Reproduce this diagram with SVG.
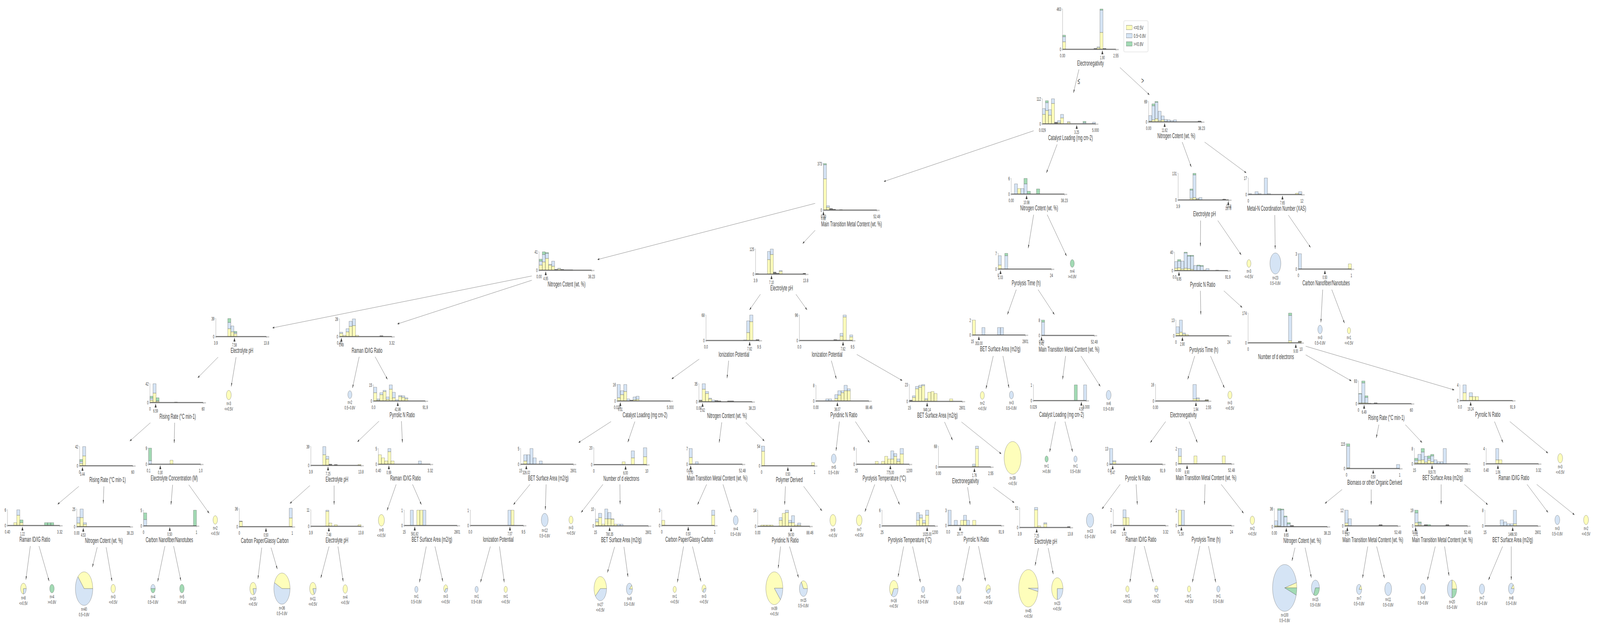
<svg xmlns="http://www.w3.org/2000/svg" width="7916" height="1614" viewBox="0 0 7916 1614" preserveAspectRatio="none">
<defs>
<marker id="ah" viewBox="0 0 10 6" refX="10" refY="3" markerWidth="9" markerHeight="5.4" markerUnits="userSpaceOnUse" orient="auto"><path d="M0,0L10,3L0,6z" fill="#444443"/></marker>
<style>
svg{width:100vw;height:100vh}
text{font-family:"Liberation Sans",Arial,sans-serif;fill:#444443}
.t{font-size:13.5px;text-anchor:middle}
.t.e{text-anchor:end}
.s{font-size:12px;text-anchor:middle}
.f{font-size:18px;text-anchor:middle}
.l{font-size:13px;text-anchor:middle}
.el{font-size:22px;text-anchor:middle}
.lg{font-size:15px}
.xg{stroke:#c8c8c8;stroke-width:3;fill:none}
.xl{stroke:#444443;stroke-width:1.4;fill:none}
.ya{stroke:#a0a0a0;stroke-width:1;fill:none}
.tr{fill:#444443}
.Y{fill:#fefebb;stroke:#444443;stroke-width:.6}
.B{fill:#d5e4f5;stroke:#444443;stroke-width:.6}
.G{fill:#a2dab4;stroke:#444443;stroke-width:.6}
.K{fill:#777;stroke:#444443;stroke-width:.6}
#edges line{stroke:#666;stroke-width:1;fill:none;marker-end:url(#ah)}
</style>
</defs>
<rect width="7916" height="1614" fill="#fff"/>
<g id="edges">
<line x1="5338" y1="178" x2="5311" y2="238"/>
<line x1="5541" y1="173" x2="5687" y2="243"/>
<line x1="5114" y1="335" x2="4373" y2="465"/>
<line x1="5230" y1="370" x2="5177" y2="443"/>
<line x1="5849" y1="364" x2="5894" y2="428"/>
<line x1="5960" y1="364" x2="6166" y2="443"/>
<line x1="4033" y1="521" x2="2956" y2="665"/>
<line x1="4033" y1="590" x2="3971" y2="624"/>
<line x1="5114" y1="550" x2="5087" y2="636"/>
<line x1="5181" y1="550" x2="5277" y2="656"/>
<line x1="5940" y1="565" x2="5939" y2="631"/>
<line x1="6025" y1="565" x2="6141" y2="653"/>
<line x1="6307" y1="551" x2="6309" y2="638"/>
<line x1="6374" y1="551" x2="6484" y2="634"/>
<line x1="2631" y1="707" x2="1348" y2="840"/>
<line x1="2631" y1="718" x2="1966" y2="830"/>
<line x1="3762" y1="754" x2="3708" y2="794"/>
<line x1="3938" y1="754" x2="3993" y2="794"/>
<line x1="5028" y1="742" x2="4984" y2="806"/>
<line x1="5136" y1="742" x2="5217" y2="806"/>
<line x1="5939" y1="745" x2="5941" y2="806"/>
<line x1="6055" y1="745" x2="6146" y2="788"/>
<line x1="6544" y1="742" x2="6535" y2="826"/>
<line x1="6589" y1="742" x2="6652" y2="828"/>
<line x1="1079" y1="915" x2="978" y2="968"/>
<line x1="1168" y1="915" x2="1144" y2="990"/>
<line x1="1777" y1="914" x2="1744" y2="994"/>
<line x1="1856" y1="914" x2="1917" y2="972"/>
<line x1="3459" y1="920" x2="3323" y2="971"/>
<line x1="3605" y1="924" x2="3597" y2="969"/>
<line x1="4113" y1="924" x2="4138" y2="971"/>
<line x1="4239" y1="908" x2="4464" y2="975"/>
<line x1="4914" y1="912" x2="4878" y2="996"/>
<line x1="4962" y1="912" x2="4992" y2="994"/>
<line x1="5272" y1="912" x2="5257" y2="972"/>
<line x1="5348" y1="912" x2="5444" y2="990"/>
<line x1="5911" y1="912" x2="5876" y2="972"/>
<line x1="5989" y1="912" x2="6058" y2="994"/>
<line x1="6460" y1="909" x2="6686" y2="976"/>
<line x1="6460" y1="887" x2="7195" y2="999"/>
<line x1="744" y1="1083" x2="642" y2="1130"/>
<line x1="864" y1="1083" x2="862" y2="1135"/>
<line x1="1875" y1="1079" x2="1768" y2="1132"/>
<line x1="1986" y1="1079" x2="1991" y2="1134"/>
<line x1="3023" y1="1080" x2="2862" y2="1134"/>
<line x1="3141" y1="1080" x2="3106" y2="1133"/>
<line x1="3571" y1="1082" x2="3558" y2="1134"/>
<line x1="3690" y1="1082" x2="3782" y2="1130"/>
<line x1="4153" y1="1080" x2="4136" y2="1155"/>
<line x1="4232" y1="1080" x2="4302" y2="1134"/>
<line x1="4673" y1="1081" x2="4713" y2="1128"/>
<line x1="4757" y1="1081" x2="4954" y2="1163"/>
<line x1="5222" y1="1080" x2="5193" y2="1158"/>
<line x1="5269" y1="1080" x2="5307" y2="1158"/>
<line x1="5767" y1="1080" x2="5691" y2="1134"/>
<line x1="5883" y1="1080" x2="5924" y2="1134"/>
<line x1="6822" y1="1088" x2="6809" y2="1122"/>
<line x1="6953" y1="1088" x2="7036" y2="1134"/>
<line x1="7394" y1="1080" x2="7436" y2="1134"/>
<line x1="7470" y1="1080" x2="7659" y2="1161"/>
<line x1="390" y1="1246" x2="285" y2="1292"/>
<line x1="514" y1="1246" x2="511" y2="1290"/>
<line x1="854" y1="1242" x2="846" y2="1293"/>
<line x1="934" y1="1242" x2="1035" y2="1315"/>
<line x1="1533" y1="1244" x2="1434" y2="1290"/>
<line x1="1653" y1="1244" x2="1653" y2="1293"/>
<line x1="1960" y1="1241" x2="1915" y2="1308"/>
<line x1="2041" y1="1241" x2="2085" y2="1293"/>
<line x1="2622" y1="1241" x2="2540" y2="1293"/>
<line x1="2702" y1="1241" x2="2698" y2="1306"/>
<line x1="2983" y1="1241" x2="2875" y2="1313"/>
<line x1="3067" y1="1241" x2="3068" y2="1292"/>
<line x1="3496" y1="1241" x2="3451" y2="1293"/>
<line x1="3577" y1="1241" x2="3620" y2="1313"/>
<line x1="3886" y1="1246" x2="3882" y2="1293"/>
<line x1="3976" y1="1246" x2="4067" y2="1309"/>
<line x1="4328" y1="1241" x2="4279" y2="1311"/>
<line x1="4408" y1="1241" x2="4451" y2="1293"/>
<line x1="4787" y1="1248" x2="4800" y2="1293"/>
<line x1="4914" y1="1248" x2="5018" y2="1288"/>
<line x1="5542" y1="1241" x2="5452" y2="1304"/>
<line x1="5621" y1="1241" x2="5627" y2="1293"/>
<line x1="5962" y1="1241" x2="5959" y2="1293"/>
<line x1="6042" y1="1241" x2="6153" y2="1315"/>
<line x1="6640" y1="1254" x2="6555" y2="1290"/>
<line x1="6784" y1="1254" x2="6784" y2="1293"/>
<line x1="7130" y1="1241" x2="7130" y2="1292"/>
<line x1="7245" y1="1241" x2="7361" y2="1293"/>
<line x1="7555" y1="1241" x2="7659" y2="1313"/>
<line x1="7603" y1="1241" x2="7790" y2="1319"/>
<line x1="150" y1="1399" x2="128" y2="1485"/>
<line x1="193" y1="1399" x2="243" y2="1489"/>
<line x1="481" y1="1402" x2="457" y2="1453"/>
<line x1="525" y1="1402" x2="554" y2="1489"/>
<line x1="816" y1="1399" x2="780" y2="1490"/>
<line x1="859" y1="1399" x2="895" y2="1488"/>
<line x1="1295" y1="1403" x2="1276" y2="1483"/>
<line x1="1341" y1="1403" x2="1372" y2="1458"/>
<line x1="1628" y1="1400" x2="1587" y2="1481"/>
<line x1="1672" y1="1400" x2="1698" y2="1490"/>
<line x1="2109" y1="1400" x2="2075" y2="1492"/>
<line x1="2152" y1="1400" x2="2191" y2="1490"/>
<line x1="2426" y1="1400" x2="2377" y2="1492"/>
<line x1="2471" y1="1400" x2="2495" y2="1492"/>
<line x1="3041" y1="1401" x2="3005" y2="1467"/>
<line x1="3087" y1="1401" x2="3107" y2="1478"/>
<line x1="3382" y1="1400" x2="3351" y2="1492"/>
<line x1="3426" y1="1400" x2="3468" y2="1490"/>
<line x1="3862" y1="1400" x2="3850" y2="1456"/>
<line x1="3906" y1="1400" x2="3951" y2="1480"/>
<line x1="4471" y1="1400" x2="4443" y2="1478"/>
<line x1="4515" y1="1400" x2="4554" y2="1492"/>
<line x1="4797" y1="1399" x2="4762" y2="1490"/>
<line x1="4841" y1="1399" x2="4876" y2="1489"/>
<line x1="5138" y1="1404" x2="5121" y2="1449"/>
<line x1="5186" y1="1404" x2="5211" y2="1471"/>
<line x1="5617" y1="1399" x2="5590" y2="1492"/>
<line x1="5661" y1="1399" x2="5706" y2="1492"/>
<line x1="5936" y1="1399" x2="5899" y2="1492"/>
<line x1="5979" y1="1399" x2="6015" y2="1492"/>
<line x1="6407" y1="1403" x2="6392" y2="1437"/>
<line x1="6457" y1="1403" x2="6488" y2="1480"/>
<line x1="6767" y1="1400" x2="6741" y2="1481"/>
<line x1="6811" y1="1400" x2="6850" y2="1481"/>
<line x1="7101" y1="1400" x2="7062" y2="1486"/>
<line x1="7147" y1="1400" x2="7169" y2="1475"/>
<line x1="7434" y1="1400" x2="7364" y2="1486"/>
<line x1="7477" y1="1400" x2="7477" y2="1486"/>
<text class="el" x="5337" y="215">≤</text>
<text class="el" x="5653" y="214">&gt;</text>
</g>
<g id="legend">
<rect x="5560" y="53" width="120" height="80" rx="4" fill="#fff" stroke="#c8c8c8"/>
<rect class="Y" x="5572" y="65" width="30" height="11"/><text class="lg" x="5609" y="76">&lt;=0.5V</text>
<rect class="B" x="5572" y="86" width="30" height="11"/><text class="lg" x="5609" y="97">0.5~0.8V</text>
<rect class="G" x="5572" y="107" width="30" height="11"/><text class="lg" x="5609" y="118">&gt;=0.8V</text>
</g>
<g id="n1" transform="translate(5257,126)"><path class="xg" d="M-2,1H278"/><path class="Y" d="M0,0v-19h15v19zM170,0v-4h15v4zM185,0v-43h15v43z"/><path class="B" d="M0,-19v-13h15v13zM170,-4v-2h15v2zM185,-43v-57h15v57z"/><path class="G" d="M0,-32v-4h15v4zM185,-100v-3h15v3z"/><path class="K" d="M155,0v-2h15v2zM200,0v-2h15v2z"/><path class="xl" d="M0,0H264"/><path class="ya" d="M0,4V-103M-4,0H0M-4,-103H0M264,0v4"/><text class="t e" x="-7" y="5">0</text><text class="t e" x="-7" y="-98">463</text><text class="t" x="0" y="21">0.00</text><text class="t" x="264" y="21">2.55</text><path class="tr" d="M197,3l5,10h-10z"/><text class="s" x="197" y="26">1.90</text><text class="f" x="138" y="42">Electronegativity</text></g>
<g id="n2" transform="translate(5157,317)"><path class="xg" d="M-2,1H277"/><path class="Y" d="M0,0v-24h15v24zM15,0v-34h15v34zM30,0v-22h15v22zM45,0v-52h15v52zM75,0v-3h15v3zM90,0v-15h15v15zM123,0v-4h15v4z"/><path class="B" d="M0,-24v-15h15v15zM15,-34v-20h15v20zM30,-22v-14h15v14zM45,-52v-12h15v12zM75,-3v-5h15v5zM90,-15v-9h15v9zM123,-4v-1h15v1zM201,0v-3h15v3zM248,0v-4h15v4z"/><path class="G" d="M15,-54v-5h15v5zM201,-3v-3h15v3z"/><path class="K" d="M60,0v-4h15v4z"/><path class="xl" d="M0,0H263"/><path class="ya" d="M0,4V-64M-4,0H0M-4,-64H0M263,0v4"/><text class="t e" x="-7" y="5">0</text><text class="t e" x="-7" y="-59">112</text><text class="t" x="0" y="21">0.029</text><text class="t" x="263" y="21">5.000</text><path class="tr" d="M170,3l5,10h-10z"/><text class="s" x="170" y="26">3.25</text><text class="f" x="139" y="42">Catalyst Loading (mg cm-2)</text></g>
<g id="n3" transform="translate(5683,312)"><path class="xg" d="M-2,1H276"/><path class="Y" d="M0,0v-2h15v2zM16,0v-5h15v5zM31,0v-8h15v8zM47,0v-3h15v3zM62,0v-5h15v5zM77,0v-1h15v1z"/><path class="B" d="M0,-2v-14h15v14zM16,-5v-36h15v36zM31,-8v-42h15v42zM47,-3v-24h15v24zM62,-5v-10h15v10zM77,-1v-5h15v5zM92,0v-5h15v5zM107,0v-3h15v3zM123,0v-5h15v5z"/><path class="G" d="M16,-41v-5h15v5zM31,-50v-2h15v2z"/><path class="K" d="M244,0v-2h15v2z"/><path class="xl" d="M0,0H262"/><path class="ya" d="M0,4V-52M-4,0H0M-4,-52H0M262,0v4"/><text class="t e" x="-7" y="5">0</text><text class="t e" x="-7" y="-47">69</text><text class="t" x="0" y="21">0.00</text><text class="t" x="262" y="21">38.23</text><path class="tr" d="M79,3l5,10h-10z"/><text class="s" x="79" y="26">11.62</text><text class="f" x="137" y="42">Nitrogen Cotent (wt. %)</text></g>
<g id="n4" transform="translate(4074,538)"><path class="xg" d="M-2,1H278"/><path class="Y" d="M0,0v-80h15v80zM15,0v-7h15v7z"/><path class="B" d="M0,-80v-36h15v36zM15,-7v-4h15v4z"/><path class="G" d="M0,-116v-3h15v3z"/><path class="K" d="M30,0v-4h15v4zM45,0v-2h15v2zM79,0v-1h15v1z"/><path class="xl" d="M0,0H264"/><path class="ya" d="M0,4V-119M-4,0H0M-4,-119H0M264,0v4"/><text class="t e" x="-7" y="5">0</text><text class="t e" x="-7" y="-114">373</text><text class="t" x="0" y="21">0.00</text><text class="t" x="264" y="21">52.48</text><path class="tr" d="M0,3l5,10h-10z"/><text class="s" x="0" y="26">0.88</text><text class="f" x="139" y="42">Main Transition Metal Content (wt. %)</text></g>
<g id="n5" transform="translate(5003,497)"><path class="xg" d="M-2,1H277"/><path class="Y" d="M31,0v-14h16v14z"/><path class="B" d="M16,0v-26h15v26zM47,0v-14h16v14zM63,0v-26h16v26z"/><path class="G" d="M63,-26v-14h16v14zM79,0v-7h16v7zM125,0v-13h16v13z"/><path class="xl" d="M0,0H263"/><path class="ya" d="M0,4V-40M-4,0H0M-4,-40H0M263,0v4"/><text class="t e" x="-7" y="5">0</text><text class="t e" x="-7" y="-35">6</text><text class="t" x="0" y="21">0.00</text><text class="t" x="263" y="21">38.23</text><path class="tr" d="M76,3l5,10h-10z"/><text class="s" x="76" y="26">10.98</text><text class="f" x="138" y="42">Nitrogen Cotent (wt. %)</text></g>
<g id="n6" transform="translate(5829,512)"><path class="xg" d="M-2,1H264"/><path class="Y" d="M58,0v-4h15v4zM73,0v-6h15v6zM88,0v-2h15v2z"/><path class="B" d="M58,-4v-21h15v21zM73,-6v-58h15v58zM88,-2v-2h15v2zM103,0v-6h15v6z"/><path class="G" d="M58,-25v-3h15v3zM73,-64v-4h15v4z"/><path class="K" d="M220,0v-2h15v2z"/><path class="xl" d="M0,0H250"/><path class="ya" d="M0,4V-68M-4,0H0M-4,-68H0M250,0v4"/><text class="t e" x="-7" y="5">0</text><text class="t e" x="-7" y="-63">131</text><text class="t" x="0" y="21">3.9</text><text class="t" x="250" y="21">13.8</text><path class="tr" d="M248,3l5,10h-10z"/><text class="s" x="248" y="26">13.78</text><text class="f" x="130" y="42">Electrolyte pH</text></g>
<g id="n7" transform="translate(6176,498)"><path class="xg" d="M-2,1H279"/><path class="Y" d="M233,0v-3h15v3z"/><path class="B" d="M0,0v-2h16v2zM33,0v-7h16v7zM49,0v-2h15v2zM79,0v-42h16v42zM95,0v-2h15v2zM249,0v-7h16v7z"/><path class="xl" d="M0,0H265"/><path class="ya" d="M0,4V-42M-4,0H0M-4,-42H0M265,0v4"/><text class="t e" x="-7" y="5">0</text><text class="t e" x="-7" y="-37">17</text><text class="t" x="0" y="21">0</text><text class="t" x="265" y="21">12</text><path class="tr" d="M169,3l5,10h-10z"/><text class="s" x="169" y="26">7.65</text><text class="f" x="140" y="42">Metal-N Coordination Number (XAS)</text></g>
<g id="n8" transform="translate(2667,692)"><path class="xg" d="M-2,1H274"/><path class="Y" d="M0,0v-13h16v13zM16,0v-21h15v21zM31,0v-30h16v30zM47,0v-13h15v13zM62,0v-10h15v10zM92,0v-3h15v3z"/><path class="B" d="M0,-13v-10h16v10zM16,-21v-19h15v19zM31,-30v-13h16v13zM47,-13v-2h15v2zM62,-10v-13h15v13zM92,-3v-2h15v2z"/><path class="G" d="M0,-23v-5h16v5zM16,-40v-7h15v7zM31,-43v-2h16v2z"/><path class="K" d="M77,0v-2h15v2zM107,0v-2h15v2zM122,0v-1h45v1z"/><path class="xl" d="M0,0H260"/><path class="ya" d="M0,4V-47M-4,0H0M-4,-47H0M260,0v4"/><text class="t e" x="-7" y="5">0</text><text class="t e" x="-7" y="-42">41</text><text class="t" x="0" y="21">0.00</text><text class="t" x="260" y="21">38.23</text><path class="tr" d="M33,3l5,10h-10z"/><text class="s" x="33" y="26">4.95</text><text class="f" x="136" y="42">Nitrogen Cotent (wt. %)</text></g>
<g id="n9" transform="translate(3738,702)"><path class="xg" d="M-2,1H262"/><path class="Y" d="M59,0v-37h14v37zM73,0v-50h15v50zM117,0v-7h15v7z"/><path class="B" d="M59,-37v-21h14v21zM73,-50v-14h15v14zM117,-7v-2h15v2z"/><path class="K" d="M0,0v-1h15v1zM88,0v-5h14v5zM102,0v-2h15v2zM235,0v-2h13v2z"/><path class="xl" d="M0,0H248"/><path class="ya" d="M0,4V-64M-4,0H0M-4,-64H0M248,0v4"/><text class="t e" x="-7" y="5">0</text><text class="t e" x="-7" y="-59">125</text><text class="t" x="0" y="21">3.9</text><text class="t" x="248" y="21">13.8</text><path class="tr" d="M79,3l5,10h-10z"/><text class="s" x="79" y="26">7.10</text><text class="f" x="129" y="42">Electrolyte pH</text></g>
<g id="n10" transform="translate(4939,689)"><path class="xg" d="M-2,1H277"/><path class="Y" d="M0,0v-10h15v10z"/><path class="B" d="M0,-10v-24h15v24zM32,0v-34h15v34z"/><path class="G" d="M32,-34v-6h15v6z"/><path class="xl" d="M0,0H263"/><path class="ya" d="M0,4V-40M-4,0H0M-4,-40H0M263,0v4"/><text class="t e" x="-7" y="5">0</text><text class="t e" x="-7" y="-35">7</text><text class="t" x="0" y="21">0</text><text class="t" x="263" y="21">24</text><path class="tr" d="M11,3l5,10h-10z"/><text class="s" x="11" y="26">1.03</text><text class="f" x="138" y="42">Pyrolysis Time (h)</text></g>
<g id="n11" transform="translate(5811,693)"><path class="xg" d="M-2,1H278"/><path class="Y" d="M0,0v-6h15v6zM15,0v-7h16v7zM31,0v-4h16v4zM47,0v-6h16v6zM63,0v-5h16v5zM79,0v-3h16v3z"/><path class="B" d="M0,-6v-17h15v17zM15,-7v-17h16v17zM31,-4v-20h16v20zM47,-6v-39h16v39zM63,-5v-32h16v32zM79,-3v-34h16v34zM95,0v-13h16v13zM111,0v-12h16v12zM127,0v-11h16v11zM155,0v-5h16v5z"/><path class="G" d="M15,-24v-4h16v4zM47,-45v-2h16v2zM63,-37v-2h16v2zM79,-37v-2h16v2zM111,-12v-2h16v2zM127,-11v-2h16v2z"/><path class="K" d="M143,0v-1h12v1zM203,0v-1h15v1z"/><path class="xl" d="M0,0H264"/><path class="ya" d="M0,4V-47M-4,0H0M-4,-47H0M264,0v4"/><text class="t e" x="-7" y="5">0</text><text class="t e" x="-7" y="-42">40</text><text class="t" x="0" y="21">0.0</text><text class="t" x="264" y="21">91.9</text><path class="tr" d="M22,3l5,10h-10z"/><text class="s" x="22" y="26">6.95</text><text class="f" x="139" y="42">Pyrrolic N Ratio</text></g>
<g id="n12" transform="translate(6424,689)"><path class="xg" d="M-2,1H276"/><path class="Y" d="M247,0v-13h15v13z"/><path class="B" d="M0,0v-39h15v39z"/><path class="xl" d="M0,0H262"/><path class="ya" d="M0,4V-39M-4,0H0M-4,-39H0M262,0v4"/><text class="t e" x="-7" y="5">0</text><text class="t e" x="-7" y="-34">3</text><text class="t" x="0" y="21">0</text><text class="t" x="262" y="21">1</text><path class="tr" d="M131,3l5,10h-10z"/><text class="s" x="131" y="26">0.50</text><text class="f" x="137" y="42">Carbon Nanofiber/Nanotubes</text></g>
<g id="n13" transform="translate(1068,862)"><path class="xg" d="M-2,1H264"/><path class="Y" d="M59,0v-20h15v20zM74,0v-12h15v12zM89,0v-7h15v7z"/><path class="B" d="M59,-20v-16h15v16zM74,-12v-15h15v15zM89,-7v-3h15v3z"/><path class="G" d="M59,-36v-10h15v10zM89,-10v-3h15v3z"/><path class="xl" d="M0,0H250"/><path class="ya" d="M0,4V-46M-4,0H0M-4,-46H0M250,0v4"/><text class="t e" x="-7" y="5">0</text><text class="t e" x="-7" y="-41">39</text><text class="t" x="0" y="21">3.9</text><text class="t" x="250" y="21">13.8</text><path class="tr" d="M92,3l5,10h-10z"/><text class="s" x="92" y="26">7.58</text><text class="f" x="129" y="42">Electrolyte pH</text></g>
<g id="n14" transform="translate(1680,862)"><path class="xg" d="M-2,1H273"/><path class="Y" d="M0,0v-8h16v8zM16,0v-3h16v3zM32,0v-12h15v12zM47,0v-26h16v26zM63,0v-28h16v28zM79,0v-3h16v3z"/><path class="B" d="M0,-8v-3h16v3zM32,-12v-8h15v8zM47,-26v-13h16v13zM63,-28v-17h16v17z"/><path class="K" d="M199,0v-2h16v2z"/><path class="xl" d="M0,0H259"/><path class="ya" d="M0,4V-45M-4,0H0M-4,-45H0M259,0v4"/><text class="t e" x="-7" y="5">0</text><text class="t e" x="-7" y="-40">28</text><text class="t" x="0" y="21">0.40</text><text class="t" x="259" y="21">3.32</text><path class="tr" d="M9,3l5,10h-10z"/><text class="s" x="9" y="26">0.49</text><text class="f" x="136" y="42">Raman ID/IG Ratio</text></g>
<g id="n15" transform="translate(3493,872)"><path class="xg" d="M-2,1H277"/><path class="Y" d="M201,0v-20h15v20zM216,0v-48h16v48z"/><path class="B" d="M201,-20v-30h15v30zM216,-48v-17h16v17z"/><path class="K" d="M185,0v-1h16v1zM247,0v-2h16v2z"/><path class="xl" d="M0,0H263"/><path class="ya" d="M0,4V-65M-4,0H0M-4,-65H0M263,0v4"/><text class="t e" x="-7" y="5">0</text><text class="t e" x="-7" y="-60">68</text><text class="t" x="0" y="21">0.0</text><text class="t" x="263" y="21">9.5</text><path class="tr" d="M216,3l5,10h-10z"/><text class="s" x="216" y="26">7.82</text><text class="f" x="138" y="42">Ionization Potential</text></g>
<g id="n16" transform="translate(3955,872)"><path class="xg" d="M-2,1H277"/><path class="Y" d="M201,0v-11h15v11zM216,0v-60h16v60zM249,0v-9h15v9z"/><path class="B" d="M201,-11v-7h15v7zM216,-60v-5h16v5zM249,-9v-5h15v5z"/><path class="K" d="M170,0v-2h15v2zM185,0v-1h16v1z"/><path class="xl" d="M0,0H263"/><path class="ya" d="M0,4V-65M-4,0H0M-4,-65H0M263,0v4"/><text class="t e" x="-7" y="5">0</text><text class="t e" x="-7" y="-60">96</text><text class="t" x="0" y="21">0.0</text><text class="t" x="263" y="21">9.5</text><path class="tr" d="M216,3l5,10h-10z"/><text class="s" x="216" y="26">7.82</text><text class="f" x="137" y="42">Ionization Potential</text></g>
<g id="n17" transform="translate(4811,858)"><path class="xg" d="M-2,1H276"/><path class="Y" d="M0,0v-38h15v38z"/><path class="B" d="M47,0v-19h15v19zM124,0v-19h15v19zM139,0v-19h15v19z"/><path class="xl" d="M0,0H262"/><path class="ya" d="M0,4V-38M-4,0H0M-4,-38H0M262,0v4"/><text class="t e" x="-7" y="5">0</text><text class="t e" x="-7" y="-33">2</text><text class="t" x="0" y="21">15</text><text class="t" x="262" y="21">2801</text><path class="tr" d="M32,3l5,10h-10z"/><text class="s" x="32" y="26">353.00</text><text class="f" x="138" y="42">BET Surface Area (m2/g)</text></g>
<g id="n18" transform="translate(5153,859)"><path class="xg" d="M-2,1H275"/><path class="B" d="M0,0v-34h15v34z"/><path class="G" d="M0,-34v-5h15v5z"/><path class="xl" d="M0,0H261"/><path class="ya" d="M0,4V-39M-4,0H0M-4,-39H0M261,0v4"/><text class="t e" x="-7" y="5">0</text><text class="t e" x="-7" y="-34">8</text><text class="t" x="0" y="21">0.00</text><text class="t" x="261" y="21">52.48</text><path class="tr" d="M0,3l5,10h-10z"/><text class="s" x="0" y="26">0.41</text><text class="f" x="136" y="42">Main Transition Metal Content (wt. %)</text></g>
<g id="n19" transform="translate(5818,860)"><path class="xg" d="M-2,1H276"/><path class="Y" d="M0,0v-6h17v6zM17,0v-9h15v9zM32,0v-4h15v4zM47,0v-3h15v3z"/><path class="B" d="M0,-6v-17h17v17zM17,-9v-31h15v31zM32,-4v-3h15v3z"/><path class="xl" d="M0,0H262"/><path class="ya" d="M0,4V-40M-4,0H0M-4,-40H0M262,0v4"/><text class="t e" x="-7" y="5">0</text><text class="t e" x="-7" y="-35">13</text><text class="t" x="0" y="21">0</text><text class="t" x="262" y="21">24</text><path class="tr" d="M32,3l5,10h-10z"/><text class="s" x="32" y="26">2.90</text><text class="f" x="138" y="42">Pyrolysis Time (h)</text></g>
<g id="n20" transform="translate(6175,878)"><path class="xg" d="M-2,1H276"/><path class="Y" d="M200,0v-5h16v5zM248,0v-2h16v2z"/><path class="B" d="M200,-5v-65h16v65z"/><path class="G" d="M200,-70v-6h16v6z"/><path class="K" d="M248,-2v-2h16v2z"/><path class="xl" d="M0,0H262"/><path class="ya" d="M0,4V-76M-4,0H0M-4,-76H0M262,0v4"/><text class="t e" x="-7" y="5">0</text><text class="t e" x="-7" y="-71">174</text><text class="t" x="0" y="21">0</text><text class="t" x="262" y="21">10</text><path class="tr" d="M236,3l5,10h-10z"/><text class="s" x="236" y="26">9.00</text><text class="f" x="138" y="42">Number of d electrons</text></g>
<g id="n21" transform="translate(742,1031)"><path class="xg" d="M-2,1H277"/><path class="Y" d="M0,0v-6h15v6zM15,0v-24h15v24zM30,0v-3h15v3z"/><path class="B" d="M0,-6v-5h15v5zM15,-24v-24h15v24zM30,-3v-1h15v1z"/><path class="G" d="M0,-11v-5h15v5zM30,-4v-8h15v8z"/><path class="K" d="M121,0v-1h15v1z"/><path class="xl" d="M0,0H263"/><path class="ya" d="M0,4V-48M-4,0H0M-4,-48H0M263,0v4"/><text class="t e" x="-7" y="5">0</text><text class="t e" x="-7" y="-43">42</text><text class="t" x="0" y="21">0</text><text class="t" x="263" y="21">60</text><path class="tr" d="M28,3l5,10h-10z"/><text class="s" x="28" y="26">6.59</text><text class="f" x="137" y="42">Rising Rate (°C min-1)</text></g>
<g id="n22" transform="translate(1848,1027)"><path class="xg" d="M-2,1H270"/><path class="Y" d="M0,0v-21h16v21zM16,0v-2h15v2zM31,0v-16h16v16zM47,0v-24h15v24zM62,0v-4h16v4zM78,0v-30h15v30zM93,0v-8h15v8zM124,0v-11h15v11zM139,0v-9h16v9zM155,0v-5h15v5z"/><path class="B" d="M0,-21v-14h16v14zM16,-2v-3h15v3zM31,-16v-5h16v5zM47,-24v-3h15v3zM62,-4v-6h16v6zM78,-30v-11h15v11zM93,-8v-14h15v14zM108,0v-3h16v3zM124,-11v-3h15v3zM139,-9v-4h16v4zM155,-5v-3h15v3z"/><path class="xl" d="M0,0H256"/><path class="ya" d="M0,4V-41M-4,0H0M-4,-41H0M256,0v4"/><text class="t e" x="-7" y="5">0</text><text class="t e" x="-7" y="-36">15</text><text class="t" x="0" y="21">0.0</text><text class="t" x="256" y="21">91.9</text><path class="tr" d="M120,3l5,10h-10z"/><text class="s" x="120" y="26">42.86</text><text class="f" x="142" y="42">Pyrrolic N Ratio</text></g>
<g id="n23" transform="translate(3054,1027)"><path class="xg" d="M-2,1H276"/><path class="Y" d="M0,0v-8h15v8zM15,0v-16h17v16zM32,0v-24h15v24zM78,0v-3h15v3zM93,0v-4h15v4z"/><path class="B" d="M0,-8v-34h15v34zM15,-16v-10h17v10zM32,-24v-18h15v18zM47,0v-5h15v5zM78,-3v-7h15v7zM93,-4v-8h15v8z"/><path class="K" d="M62,0v-2h16v2z"/><path class="xl" d="M0,0H262"/><path class="ya" d="M0,4V-42M-4,0H0M-4,-42H0M262,0v4"/><text class="t e" x="-7" y="5">0</text><text class="t e" x="-7" y="-37">16</text><text class="t" x="0" y="21">0.029</text><text class="t" x="262" y="21">5.000</text><path class="tr" d="M15,3l5,10h-10z"/><text class="s" x="15" y="26">0.31</text><text class="f" x="137" y="42">Catalyst Loading (mg cm-2)</text></g>
<g id="n24" transform="translate(3458,1029)"><path class="xg" d="M-2,1H277"/><path class="Y" d="M0,0v-2h16v2zM16,0v-32h16v32zM32,0v-21h16v21zM48,0v-7h15v7z"/><path class="B" d="M16,-32v-14h16v14zM32,-21v-5h16v5zM48,-7v-2h15v2zM63,0v-4h16v4z"/><path class="K" d="M0,-2v-2h16v2zM79,0v-3h15v3zM94,0v-2h15v2zM141,0v-2h31v2z"/><path class="xl" d="M0,0H263"/><path class="ya" d="M0,4V-46M-4,0H0M-4,-46H0M263,0v4"/><text class="t e" x="-7" y="5">0</text><text class="t e" x="-7" y="-41">35</text><text class="t" x="0" y="21">0.00</text><text class="t" x="263" y="21">38.23</text><path class="tr" d="M18,3l5,10h-10z"/><text class="s" x="18" y="26">2.62</text><text class="f" x="139" y="42">Nitrogen Content (wt. %)</text></g>
<g id="n25" transform="translate(4037,1027)"><path class="xg" d="M-2,1H276"/><path class="Y" d="M93,0v-6h15v6zM108,0v-15h16v15zM124,0v-21h15v21zM139,0v-26h16v26zM155,0v-26h15v26z"/><path class="B" d="M48,0v-5h15v5zM63,0v-5h15v5zM93,-6v-10h15v10zM108,-15v-11h16v11zM124,-21v-5h15v5zM139,-26v-14h16v14zM155,-26v-5h15v5z"/><path class="xl" d="M0,0H262"/><path class="ya" d="M0,4V-40M-4,0H0M-4,-40H0M262,0v4"/><text class="t e" x="-7" y="5">0</text><text class="t e" x="-7" y="-35">8</text><text class="t" x="0" y="21">0.00</text><text class="t" x="262" y="21">88.46</text><path class="tr" d="M106,3l5,10h-10z"/><text class="s" x="106" y="26">36.07</text><text class="f" x="138" y="42">Pyridinic N Ratio</text></g>
<g id="n26" transform="translate(4499,1028)"><path class="xg" d="M-2,1H276"/><path class="Y" d="M15,0v-10h15v10zM30,0v-32h16v32zM46,0v-36h15v36zM61,0v-40h15v40zM76,0v-4h15v4zM91,0v-23h16v23zM107,0v-25h15v25zM122,0v-20h15v20zM199,0v-6h16v6z"/><path class="B" d="M15,-10v-4h15v4zM30,-32v-6h16v6zM46,-36v-5h15v5zM61,-40v-3h15v3zM76,-4v-3h15v3z"/><path class="K" d="M0,0v-3h15v3z"/><path class="xl" d="M0,0H262"/><path class="ya" d="M0,4V-43M-4,0H0M-4,-43H0M262,0v4"/><text class="t e" x="-7" y="5">0</text><text class="t e" x="-7" y="-38">23</text><text class="t" x="0" y="21">15</text><text class="t" x="262" y="21">2801</text><path class="tr" d="M88,3l5,10h-10z"/><text class="s" x="88" y="26">949.14</text><text class="f" x="139" y="42">BET Surface Area (m2/g)</text></g>
<g id="n27" transform="translate(5113,1026)"><path class="xg" d="M-2,1H275"/><path class="B" d="M248,0v-40h15v40z"/><path class="G" d="M202,0v-40h15v40z"/><path class="xl" d="M0,0H261"/><path class="ya" d="M0,4V-40M-4,0H0M-4,-40H0M261,0v4"/><text class="t e" x="-7" y="5">0</text><text class="t e" x="-7" y="-35">1</text><text class="t" x="0" y="21">0.029</text><text class="t" x="261" y="21">5.000</text><path class="tr" d="M237,3l5,10h-10z"/><text class="s" x="237" y="26">4.50</text><text class="f" x="139" y="42">Catalyst Loading (mg cm-2)</text></g>
<g id="n28" transform="translate(5717,1027)"><path class="xg" d="M-2,1H276"/><path class="Y" d="M185,0v-5h17v5zM202,0v-5h15v5zM245,0v-2h17v2z"/><path class="B" d="M185,-5v-37h17v37zM202,-5v-3h15v3z"/><path class="K" d="M245,-2v-1h17v1z"/><path class="xl" d="M0,0H262"/><path class="ya" d="M0,4V-42M-4,0H0M-4,-42H0M262,0v4"/><text class="t e" x="-7" y="5">0</text><text class="t e" x="-7" y="-37">16</text><text class="t" x="0" y="21">0.00</text><text class="t" x="262" y="21">2.55</text><path class="tr" d="M200,3l5,10h-10z"/><text class="s" x="200" y="26">1.94</text><text class="f" x="138" y="42">Electronegativity</text></g>
<g id="n29" transform="translate(6721,1034)"><path class="xg" d="M-2,1H276"/><path class="Y" d="M0,0v-2h16v2zM16,0v-2h16v2zM32,0v-2h15v2z"/><path class="B" d="M0,-2v-23h16v23zM16,-2v-51h16v51zM32,-2v-14h15v14z"/><path class="G" d="M0,-25v-1h16v1zM16,-53v-5h16v5zM32,-16v-4h15v4z"/><path class="K" d="M47,0v-1h16v1zM77,0v-2h16v2z"/><path class="xl" d="M0,0H262"/><path class="ya" d="M0,4V-58M-4,0H0M-4,-58H0M262,0v4"/><text class="t e" x="-7" y="5">0</text><text class="t e" x="-7" y="-53">93</text><text class="t" x="0" y="21">0</text><text class="t" x="262" y="21">60</text><path class="tr" d="M28,3l5,10h-10z"/><text class="s" x="28" y="26">6.49</text><text class="f" x="138" y="42">Rising Rate (°C min-1)</text></g>
<g id="n30" transform="translate(7223,1026)"><path class="xg" d="M-2,1H275"/><path class="Y" d="M15,0v-20h16v20zM46,0v-10h16v10zM62,0v-10h15v10zM77,0v-10h15v10z"/><path class="B" d="M15,-20v-20h16v20zM46,-10v-10h16v10z"/><path class="xl" d="M0,0H261"/><path class="ya" d="M0,4V-40M-4,0H0M-4,-40H0M261,0v4"/><text class="t e" x="-7" y="5">0</text><text class="t e" x="-7" y="-35">4</text><text class="t" x="0" y="21">0.0</text><text class="t" x="261" y="21">91.9</text><path class="tr" d="M53,3l5,10h-10z"/><text class="s" x="53" y="26">19.24</text><text class="f" x="138" y="42">Pyrrolic N Ratio</text></g>
<g id="n31" transform="translate(394,1193)"><path class="xg" d="M-2,1H277"/><path class="Y" d="M0,0v-6h15v6zM15,0v-25h15v25z"/><path class="B" d="M0,-6v-5h15v5zM15,-25v-24h15v24z"/><path class="G" d="M0,-11v-5h15v5z"/><path class="xl" d="M0,0H263"/><path class="ya" d="M0,4V-49M-4,0H0M-4,-49H0M263,0v4"/><text class="t e" x="-7" y="5">0</text><text class="t e" x="-7" y="-44">42</text><text class="t" x="0" y="21">0</text><text class="t" x="263" y="21">60</text><path class="tr" d="M14,3l5,10h-10z"/><text class="s" x="14" y="26">3.44</text><text class="f" x="138" y="42">Rising Rate (°C min-1)</text></g>
<g id="n32" transform="translate(735,1189)"><path class="xg" d="M-2,1H272"/><path class="Y" d="M106,0v-10h15v10z"/><path class="B" d="M0,0v-9h15v9z"/><path class="G" d="M0,-9v-32h15v32z"/><path class="xl" d="M0,0H258"/><path class="ya" d="M0,4V-41M-4,0H0M-4,-41H0M258,0v4"/><text class="t e" x="-7" y="5">0</text><text class="t e" x="-7" y="-36">9</text><text class="t" x="0" y="21">0.1</text><text class="t" x="258" y="21">1.0</text><path class="tr" d="M58,3l5,10h-10z"/><text class="s" x="58" y="26">0.30</text><text class="f" x="127" y="42">Electrolyte Concentration (M)</text></g>
<g id="n33" transform="translate(1538,1192)"><path class="xg" d="M-2,1H262"/><path class="Y" d="M59,0v-27h15v27zM74,0v-16h15v16zM233,0v-2h15v2z"/><path class="B" d="M59,-27v-21h15v21zM74,-16v-7h15v7z"/><path class="K" d="M89,0v-3h15v3zM116,0v-2h15v2z"/><path class="xl" d="M0,0H248"/><path class="ya" d="M0,4V-48M-4,0H0M-4,-48H0M248,0v4"/><text class="t e" x="-7" y="5">0</text><text class="t e" x="-7" y="-43">39</text><text class="t" x="0" y="21">3.9</text><text class="t" x="248" y="21">13.8</text><path class="tr" d="M85,3l5,10h-10z"/><text class="s" x="85" y="26">7.25</text><text class="f" x="129" y="42">Electrolyte pH</text></g>
<g id="n34" transform="translate(1872,1189)"><path class="xg" d="M-2,1H271"/><path class="Y" d="M0,0v-24h15v24zM15,0v-16h16v16zM31,0v-8h16v8zM47,0v-32h15v32zM62,0v-8h16v8z"/><path class="B" d="M47,-32v-8h15v8zM198,0v-8h15v8z"/><path class="xl" d="M0,0H257"/><path class="ya" d="M0,4V-40M-4,0H0M-4,-40H0M257,0v4"/><text class="t e" x="-7" y="5">0</text><text class="t e" x="-7" y="-35">5</text><text class="t" x="0" y="21">0.40</text><text class="t" x="257" y="21">3.32</text><path class="tr" d="M52,3l5,10h-10z"/><text class="s" x="52" y="26">0.99</text><text class="f" x="134" y="42">Raman ID/IG Ratio</text></g>
<g id="n35" transform="translate(2576,1189)"><path class="xg" d="M-2,1H275"/><path class="Y" d="M15,0v-8h16v8z"/><path class="B" d="M15,-8v-16h16v16zM31,0v-24h15v24zM46,0v-40h15v40zM61,0v-16h16v16zM92,0v-8h15v8z"/><path class="xl" d="M0,0H261"/><path class="ya" d="M0,4V-40M-4,0H0M-4,-40H0M261,0v4"/><text class="t e" x="-7" y="5">0</text><text class="t e" x="-7" y="-35">5</text><text class="t" x="0" y="21">15</text><text class="t" x="261" y="21">2801</text><path class="tr" d="M28,3l5,10h-10z"/><text class="s" x="28" y="26">326.02</text><text class="f" x="137" y="42">BET Surface Area (m2/g)</text></g>
<g id="n36" transform="translate(2938,1190)"><path class="xg" d="M-2,1H276"/><path class="Y" d="M140,0v-7h15v7zM185,0v-17h16v17zM245,0v-20h17v20z"/><path class="B" d="M185,-17v-18h16v18zM245,-20v-23h17v23z"/><path class="xl" d="M0,0H262"/><path class="ya" d="M0,4V-43M-4,0H0M-4,-43H0M262,0v4"/><text class="t e" x="-7" y="5">0</text><text class="t e" x="-7" y="-38">20</text><text class="t" x="0" y="21">0</text><text class="t" x="262" y="21">10</text><path class="tr" d="M157,3l5,10h-10z"/><text class="s" x="157" y="26">6.00</text><text class="f" x="136" y="42">Number of d electrons</text></g>
<g id="n37" transform="translate(3410,1189)"><path class="xg" d="M-2,1H277"/><path class="Y" d="M0,0v-17h15v17z"/><path class="B" d="M0,-17v-23h15v23zM30,0v-6h15v6z"/><path class="xl" d="M0,0H263"/><path class="ya" d="M0,4V-40M-4,0H0M-4,-40H0M263,0v4"/><text class="t e" x="-7" y="5">0</text><text class="t e" x="-7" y="-35">7</text><text class="t" x="0" y="21">0.00</text><text class="t" x="263" y="21">52.48</text><path class="tr" d="M7,3l5,10h-10z"/><text class="s" x="7" y="26">1.70</text><text class="f" x="138" y="42">Main Transition Metal Content (wt. %)</text></g>
<g id="n38" transform="translate(3768,1193)"><path class="xg" d="M-2,1H276"/><path class="Y" d="M0,0v-37h15v37zM247,0v-8h15v8z"/><path class="B" d="M0,-37v-13h15v13z"/><path class="xl" d="M0,0H262"/><path class="ya" d="M0,4V-50M-4,0H0M-4,-50H0M262,0v4"/><text class="t e" x="-7" y="5">0</text><text class="t e" x="-7" y="-45">54</text><text class="t" x="0" y="21">0</text><text class="t" x="262" y="21">1</text><path class="tr" d="M130,3l5,10h-10z"/><text class="s" x="130" y="26">0.50</text><text class="f" x="137" y="42">Polymer Derived</text></g>
<g id="n39" transform="translate(4237,1189)"><path class="xg" d="M-2,1H276"/><path class="Y" d="M93,0v-7h15v7zM124,0v-7h16v7zM140,0v-20h15v20zM155,0v-13h15v13zM170,0v-13h15v13zM185,0v-20h15v20zM200,0v-7h16v7zM216,0v-26h17v26z"/><path class="B" d="M170,-13v-21h15v21zM185,-20v-7h15v7zM200,-7v-6h16v6zM216,-26v-14h17v14z"/><path class="xl" d="M0,0H262"/><path class="ya" d="M0,4V-40M-4,0H0M-4,-40H0M262,0v4"/><text class="t e" x="-7" y="5">0</text><text class="t e" x="-7" y="-35">6</text><text class="t" x="0" y="21">25</text><text class="t" x="262" y="21">1200</text><path class="tr" d="M168,3l5,10h-10z"/><text class="s" x="168" y="26">775.00</text><text class="f" x="138" y="42">Pyrolysis Temperature (°C)</text></g>
<g id="n40" transform="translate(4643,1196)"><path class="xg" d="M-2,1H273"/><path class="Y" d="M168,0v-2h15v2zM183,0v-47h15v47z"/><path class="B" d="M168,-2v-5h15v5zM183,-47v-6h15v6z"/><path class="xl" d="M0,0H259"/><path class="ya" d="M0,4V-53M-4,0H0M-4,-53H0M259,0v4"/><text class="t e" x="-7" y="5">0</text><text class="t e" x="-7" y="-48">68</text><text class="t" x="0" y="21">0.00</text><text class="t" x="259" y="21">2.55</text><path class="tr" d="M178,3l5,10h-10z"/><text class="s" x="178" y="26">1.76</text><text class="f" x="134" y="42">Electronegativity</text></g>
<g id="n41" transform="translate(5490,1189)"><path class="xg" d="M-2,1H276"/><path class="Y" d="M15,0v-6h16v6z"/><path class="B" d="M0,0v-40h15v40zM15,-6v-3h16v3z"/><path class="xl" d="M0,0H262"/><path class="ya" d="M0,4V-40M-4,0H0M-4,-40H0M262,0v4"/><text class="t e" x="-7" y="5">0</text><text class="t e" x="-7" y="-35">13</text><text class="t" x="0" y="21">0.0</text><text class="t" x="262" y="21">91.9</text><path class="tr" d="M15,3l5,10h-10z"/><text class="s" x="15" y="26">5.47</text><text class="f" x="139" y="42">Pyrrolic N Ratio</text></g>
<g id="n42" transform="translate(5830,1188)"><path class="xg" d="M-2,1H277"/><path class="Y" d="M0,0v-19h15v19zM77,0v-20h15v20zM217,0v-20h15v20z"/><path class="B" d="M0,-19v-20h15v20z"/><path class="xl" d="M0,0H263"/><path class="ya" d="M0,4V-39M-4,0H0M-4,-39H0M263,0v4"/><text class="t e" x="-7" y="5">0</text><text class="t e" x="-7" y="-34">2</text><text class="t" x="0" y="21">0.00</text><text class="t" x="263" y="21">52.48</text><path class="tr" d="M43,3l5,10h-10z"/><text class="s" x="43" y="26">8.90</text><text class="f" x="137" y="42">Main Transition Metal Content (wt. %)</text></g>
<g id="n43" transform="translate(6662,1200)"><path class="xg" d="M-2,1H277"/><path class="Y" d="M0,0v-2h16v2z"/><path class="B" d="M0,-2v-55h16v55zM247,0v-10h16v10z"/><path class="G" d="M0,-57v-6h16v6z"/><path class="xl" d="M0,0H263"/><path class="ya" d="M0,4V-63M-4,0H0M-4,-63H0M263,0v4"/><text class="t e" x="-7" y="5">0</text><text class="t e" x="-7" y="-58">115</text><text class="t" x="0" y="21">0</text><text class="t" x="263" y="21">1</text><path class="tr" d="M132,3l5,10h-10z"/><text class="s" x="132" y="26">0.50</text><text class="f" x="139" y="42">Biomass or other Organic Derived</text></g>
<g id="n44" transform="translate(6998,1188)"><path class="xg" d="M-2,1H277"/><path class="Y" d="M0,0v-3h17v3zM17,0v-9h16v9zM33,0v-10h16v10zM49,0v-4h16v4zM65,0v-9h15v9zM80,0v-5h16v5z"/><path class="B" d="M0,-3v-6h17v6zM17,-9v-15h16v15zM33,-10v-20h16v20zM49,-4v-15h16v15zM65,-9v-5h15v5zM80,-5v-15h16v15zM96,0v-10h16v10zM112,0v-5h15v5zM127,0v-5h15v5zM142,0v-39h16v39z"/><path class="G" d="M0,-9v-5h17v5zM33,-30v-9h16v9zM65,-14v-6h15v6zM80,-20v-4h16v4z"/><path class="xl" d="M0,0H263"/><path class="ya" d="M0,4V-39M-4,0H0M-4,-39H0M263,0v4"/><text class="t e" x="-7" y="5">0</text><text class="t e" x="-7" y="-34">8</text><text class="t" x="0" y="21">15</text><text class="t" x="263" y="21">2801</text><path class="tr" d="M87,3l5,10h-10z"/><text class="s" x="87" y="26">919.70</text><text class="f" x="140" y="42">BET Surface Area (m2/g)</text></g>
<g id="n45" transform="translate(7353,1188)"><path class="xg" d="M-2,1H273"/><path class="Y" d="M47,0v-10h15v10zM62,0v-10h16v10z"/><path class="B" d="M47,-10v-29h15v29z"/><path class="xl" d="M0,0H259"/><path class="ya" d="M0,4V-39M-4,0H0M-4,-39H0M259,0v4"/><text class="t e" x="-7" y="5">0</text><text class="t e" x="-7" y="-34">4</text><text class="t" x="0" y="21">0.40</text><text class="t" x="259" y="21">3.32</text><path class="tr" d="M58,3l5,10h-10z"/><text class="s" x="58" y="26">1.06</text><text class="f" x="137" y="42">Raman ID/IG Ratio</text></g>
<g id="n46" transform="translate(37,1346)"><path class="xg" d="M-2,1H273"/><path class="Y" d="M31,0v-7h15v7zM46,0v-26h15v26zM61,0v-7h16v7z"/><path class="B" d="M46,-26v-14h15v14z"/><path class="G" d="M61,-7v-7h16v7zM183,0v-7h15v7zM198,0v-7h16v7zM214,0v-7h15v7z"/><path class="xl" d="M0,0H259"/><path class="ya" d="M0,4V-40M-4,0H0M-4,-40H0M259,0v4"/><text class="t e" x="-7" y="5">0</text><text class="t e" x="-7" y="-35">6</text><text class="t" x="0" y="21">0.40</text><text class="t" x="259" y="21">3.32</text><path class="tr" d="M74,3l5,10h-10z"/><text class="s" x="74" y="26">1.22</text><text class="f" x="135" y="42">Raman ID/IG Ratio</text></g>
<g id="n47" transform="translate(380,1349)"><path class="xg" d="M-2,1H278"/><path class="Y" d="M0,0v-9h16v9zM16,0v-23h16v23zM32,0v-6h16v6z"/><path class="B" d="M0,-9v-15h16v15zM16,-23v-22h16v22zM32,-6v-4h16v4z"/><path class="xl" d="M0,0H264"/><path class="ya" d="M0,4V-45M-4,0H0M-4,-45H0M264,0v4"/><text class="t e" x="-7" y="5">0</text><text class="t e" x="-7" y="-40">25</text><text class="t" x="0" y="21">0.00</text><text class="t" x="264" y="21">38.23</text><path class="tr" d="M32,3l5,10h-10z"/><text class="s" x="32" y="26">4.53</text><text class="f" x="134" y="42">Nitrogen Cotent (wt. %)</text></g>
<g id="n48" transform="translate(710,1347)"><path class="xg" d="M-2,1H276"/><path class="B" d="M0,0v-16h16v16z"/><path class="G" d="M0,-16v-17h16v17zM247,0v-40h15v40z"/><path class="xl" d="M0,0H262"/><path class="ya" d="M0,4V-40M-4,0H0M-4,-40H0M262,0v4"/><text class="t e" x="-7" y="5">0</text><text class="t e" x="-7" y="-35">5</text><text class="t" x="0" y="21">0</text><text class="t" x="262" y="21">1</text><path class="tr" d="M130,3l5,10h-10z"/><text class="s" x="130" y="26">0.50</text><text class="f" x="128" y="42">Carbon Nanofiber/Nanotubes</text></g>
<g id="n49" transform="translate(1184,1349)"><path class="xg" d="M-2,1H276"/><path class="Y" d="M0,0v-13h15v13zM247,0v-22h15v22z"/><path class="B" d="M247,-22v-25h15v25z"/><path class="K" d="M0,-13v-1h15v1z"/><path class="xl" d="M0,0H262"/><path class="ya" d="M0,4V-46M-4,0H0M-4,-46H0M262,0v4"/><text class="t e" x="-7" y="5">0</text><text class="t e" x="-7" y="-41">36</text><text class="t" x="0" y="21">0</text><text class="t" x="262" y="21">1</text><path class="tr" d="M132,3l5,10h-10z"/><text class="s" x="132" y="26">0.50</text><text class="f" x="126" y="42">Carbon Paper/Glassy Carbon</text></g>
<g id="n50" transform="translate(1538,1348)"><path class="xg" d="M-2,1H262"/><path class="Y" d="M74,0v-38h15v38zM89,0v-8h15v8zM116,0v-4h15v4zM233,0v-4h15v4z"/><path class="B" d="M74,-38v-3h15v3z"/><path class="xl" d="M0,0H248"/><path class="ya" d="M0,4V-42M-4,0H0M-4,-42H0M248,0v4"/><text class="t e" x="-7" y="5">0</text><text class="t e" x="-7" y="-37">11</text><text class="t" x="0" y="21">3.9</text><text class="t" x="248" y="21">13.8</text><path class="tr" d="M89,3l5,10h-10z"/><text class="s" x="89" y="26">7.48</text><text class="f" x="129" y="42">Electrolyte pH</text></g>
<g id="n51" transform="translate(2000,1346)"><path class="xg" d="M-2,1H276"/><path class="Y" d="M62,0v-39h15v39zM77,0v-39h15v39z"/><path class="B" d="M30,0v-39h15v39zM92,0v-39h15v39z"/><path class="xl" d="M0,0H262"/><path class="ya" d="M0,4V-39M-4,0H0M-4,-39H0M262,0v4"/><text class="t e" x="-7" y="5">0</text><text class="t e" x="-7" y="-34">1</text><text class="t" x="0" y="21">15</text><text class="t" x="262" y="21">2801</text><path class="tr" d="M52,3l5,10h-10z"/><text class="s" x="52" y="26">581.82</text><text class="f" x="137" y="42">BET Surface Area (m2/g)</text></g>
<g id="n52" transform="translate(2327,1346)"><path class="xg" d="M-2,1H277"/><path class="Y" d="M201,0v-39h15v39z"/><path class="B" d="M186,0v-39h15v39z"/><path class="xl" d="M0,0H263"/><path class="ya" d="M0,4V-39M-4,0H0M-4,-39H0M263,0v4"/><text class="t e" x="-7" y="5">0</text><text class="t e" x="-7" y="-34">1</text><text class="t" x="0" y="21">0.0</text><text class="t" x="263" y="21">9.5</text><path class="tr" d="M196,3l5,10h-10z"/><text class="s" x="196" y="26">7.07</text><text class="f" x="138" y="42">Ionization Potential</text></g>
<g id="n53" transform="translate(2946,1347)"><path class="xg" d="M-2,1H276"/><path class="Y" d="M0,0v-10h15v10zM15,0v-21h16v21zM31,0v-4h15v4zM46,0v-18h15v18zM61,0v-18h16v18zM77,0v-17h15v17zM92,0v-4h15v4z"/><path class="B" d="M0,-10v-7h15v7zM15,-21v-11h16v11zM46,-18v-25h15v25zM61,-18v-16h16v16zM77,-17v-1h15v1zM107,0v-4h15v4zM122,0v-4h15v4z"/><path class="xl" d="M0,0H262"/><path class="ya" d="M0,4V-43M-4,0H0M-4,-43H0M262,0v4"/><text class="t e" x="-7" y="5">0</text><text class="t e" x="-7" y="-38">10</text><text class="t" x="0" y="21">15</text><text class="t" x="262" y="21">2801</text><path class="tr" d="M70,3l5,10h-10z"/><text class="s" x="70" y="26">780.35</text><text class="f" x="128" y="42">BET Surface Area (m2/g)</text></g>
<g id="n54" transform="translate(3274,1346)"><path class="xg" d="M-2,1H276"/><path class="Y" d="M0,0v-13h15v13zM247,0v-26h15v26z"/><path class="B" d="M247,-26v-13h15v13z"/><path class="xl" d="M0,0H262"/><path class="ya" d="M0,4V-39M-4,0H0M-4,-39H0M262,0v4"/><text class="t e" x="-7" y="5">0</text><text class="t e" x="-7" y="-34">3</text><text class="t" x="0" y="21">0</text><text class="t" x="262" y="21">1</text><path class="tr" d="M131,3l5,10h-10z"/><text class="s" x="131" y="26">0.50</text><text class="f" x="136" y="42">Carbon Paper/Glassy Carbon</text></g>
<g id="n55" transform="translate(3749,1348)"><path class="xg" d="M-2,1H272"/><path class="Y" d="M15,0v-3h15v3zM30,0v-3h15v3zM45,0v-3h16v3zM61,0v-3h15v3zM106,0v-15h15v15zM121,0v-33h15v33zM136,0v-35h16v35zM152,0v-9h15v9zM167,0v-9h15v9zM182,0v-3h15v3zM197,0v-3h16v3z"/><path class="B" d="M106,-15v-7h15v7zM136,-35v-6h16v6zM152,-9v-6h15v6zM167,-9v-18h15v18zM197,-3v-5h16v5z"/><path class="xl" d="M0,0H258"/><path class="ya" d="M0,4V-41M-4,0H0M-4,-41H0M258,0v4"/><text class="t e" x="-7" y="5">0</text><text class="t e" x="-7" y="-36">14</text><text class="t" x="0" y="21">0.00</text><text class="t" x="258" y="21">88.46</text><path class="tr" d="M165,3l5,10h-10z"/><text class="s" x="165" y="26">56.50</text><text class="f" x="136" y="42">Pyridinic N Ratio</text></g>
<g id="n56" transform="translate(4364,1347)"><path class="xg" d="M-2,1H276"/><path class="Y" d="M170,0v-14h15v14zM185,0v-20h15v20zM200,0v-7h15v7zM215,0v-27h16v27z"/><path class="B" d="M170,-14v-20h15v20zM185,-20v-8h15v8zM200,-7v-7h15v7zM215,-27v-13h16v13z"/><path class="xl" d="M0,0H262"/><path class="ya" d="M0,4V-40M-4,0H0M-4,-40H0M262,0v4"/><text class="t e" x="-7" y="5">0</text><text class="t e" x="-7" y="-35">6</text><text class="t" x="0" y="21">25</text><text class="t" x="262" y="21">1200</text><path class="tr" d="M223,3l5,10h-10z"/><text class="s" x="223" y="26">1025.00</text><text class="f" x="137" y="42">Pyrolysis Temperature (°C)</text></g>
<g id="n57" transform="translate(4691,1346)"><path class="xg" d="M-2,1H277"/><path class="Y" d="M61,0v-13h15v13zM76,0v-13h15v13zM121,0v-13h16v13z"/><path class="B" d="M0,0v-39h15v39zM30,0v-13h16v13zM76,-13v-13h15v13zM91,0v-13h15v13z"/><path class="xl" d="M0,0H263"/><path class="ya" d="M0,4V-39M-4,0H0M-4,-39H0M263,0v4"/><text class="t e" x="-7" y="5">0</text><text class="t e" x="-7" y="-34">3</text><text class="t" x="0" y="21">0.0</text><text class="t" x="263" y="21">91.9</text><path class="tr" d="M59,3l5,10h-10z"/><text class="s" x="59" y="26">20.77</text><text class="f" x="139" y="42">Pyrrolic N Ratio</text></g>
<g id="n58" transform="translate(5045,1351)"><path class="xg" d="M-2,1H264"/><path class="Y" d="M73,0v-45h16v45zM89,0v-4h15v4zM119,0v-9h15v9z"/><path class="B" d="M73,-45v-6h16v6zM119,-9v-3h15v3z"/><path class="K" d="M236,0v-2h14v2z"/><path class="xl" d="M0,0H250"/><path class="ya" d="M0,4V-50M-4,0H0M-4,-50H0M250,0v4"/><text class="t e" x="-7" y="5">0</text><text class="t e" x="-7" y="-45">51</text><text class="t" x="0" y="21">3.9</text><text class="t" x="250" y="21">13.8</text><path class="tr" d="M84,3l5,10h-10z"/><text class="s" x="84" y="26">7.25</text><text class="f" x="129" y="42">Electrolyte pH</text></g>
<g id="n59" transform="translate(5508,1346)"><path class="xg" d="M-2,1H273"/><path class="Y" d="M48,0v-20h15v20zM63,0v-20h15v20z"/><path class="B" d="M48,-20v-20h15v20z"/><path class="xl" d="M0,0H259"/><path class="ya" d="M0,4V-40M-4,0H0M-4,-40H0M259,0v4"/><text class="t e" x="-7" y="5">0</text><text class="t e" x="-7" y="-35">2</text><text class="t" x="0" y="21">0.40</text><text class="t" x="259" y="21">3.32</text><path class="tr" d="M54,3l5,10h-10z"/><text class="s" x="54" y="26">1.02</text><text class="f" x="137" y="42">Raman ID/IG Ratio</text></g>
<g id="n60" transform="translate(5830,1346)"><path class="xg" d="M-2,1H277"/><path class="Y" d="M0,0v-39h15v39z"/><path class="B" d="M15,0v-39h15v39z"/><path class="xl" d="M0,0H263"/><path class="ya" d="M0,4V-39M-4,0H0M-4,-39H0M263,0v4"/><text class="t e" x="-7" y="5">0</text><text class="t e" x="-7" y="-34">1</text><text class="t" x="0" y="21">0</text><text class="t" x="263" y="21">24</text><path class="tr" d="M15,3l5,10h-10z"/><text class="s" x="15" y="26">1.50</text><text class="f" x="137" y="42">Pyrolysis Time (h)</text></g>
<g id="n61" transform="translate(6305,1349)"><path class="xg" d="M-2,1H276"/><path class="Y" d="M0,0v-3h16v3zM16,0v-2h16v2z"/><path class="B" d="M0,-3v-12h16v12zM16,-2v-40h16v40zM32,0v-43h15v43zM47,0v-25h16v25zM63,0v-7h16v7z"/><path class="G" d="M16,-42v-4h16v4zM32,-43v-2h15v2zM47,-25v-2h16v2zM63,-7v-3h16v3z"/><path class="K" d="M79,0v-3h16v3z"/><path class="xl" d="M0,0H262"/><path class="ya" d="M0,4V-46M-4,0H0M-4,-46H0M262,0v4"/><text class="t e" x="-7" y="5">0</text><text class="t e" x="-7" y="-41">36</text><text class="t" x="0" y="21">0.00</text><text class="t" x="262" y="21">38.23</text><path class="tr" d="M59,3l5,10h-10z"/><text class="s" x="59" y="26">8.65</text><text class="f" x="138" y="42">Nitrogen Cotent (wt. %)</text></g>
<g id="n62" transform="translate(6654,1347)"><path class="xg" d="M-2,1H276"/><path class="Y" d="M0,0v-7h16v7z"/><path class="B" d="M0,-7v-33h16v33zM16,0v-18h16v18z"/><path class="K" d="M168,0v-3h17v3z"/><path class="xl" d="M0,0H262"/><path class="ya" d="M0,4V-40M-4,0H0M-4,-40H0M262,0v4"/><text class="t e" x="-7" y="5">0</text><text class="t e" x="-7" y="-35">12</text><text class="t" x="0" y="21">0.00</text><text class="t" x="262" y="21">52.48</text><path class="tr" d="M12,3l5,10h-10z"/><text class="s" x="12" y="26">2.67</text><text class="f" x="138" y="42">Main Transition Metal Content (wt. %)</text></g>
<g id="n63" transform="translate(7000,1347)"><path class="xg" d="M-2,1H275"/><path class="Y" d="M0,0v-8h16v8zM16,0v-3h16v3z"/><path class="B" d="M0,-8v-25h16v25zM16,-3v-4h16v4z"/><path class="G" d="M0,-33v-7h16v7zM16,-7v-3h16v3zM62,0v-3h16v3z"/><path class="K" d="M46,0v-3h16v3zM153,0v-3h16v3z"/><path class="xl" d="M0,0H261"/><path class="ya" d="M0,4V-40M-4,0H0M-4,-40H0M261,0v4"/><text class="t e" x="-7" y="5">0</text><text class="t e" x="-7" y="-35">19</text><text class="t" x="0" y="21">0.00</text><text class="t" x="261" y="21">52.48</text><path class="tr" d="M4,3l5,10h-10z"/><text class="s" x="4" y="26">1.01</text><text class="f" x="136" y="42">Main Transition Metal Content (wt. %)</text></g>
<g id="n64" transform="translate(7347,1347)"><path class="xg" d="M-2,1H276"/><path class="Y" d="M140,0v-5h16v5z"/><path class="B" d="M75,0v-15h17v15zM92,0v-10h16v10zM108,0v-5h16v5zM124,0v-5h16v5zM140,-5v-35h16v35z"/><path class="xl" d="M0,0H262"/><path class="ya" d="M0,4V-40M-4,0H0M-4,-40H0M262,0v4"/><text class="t e" x="-7" y="5">0</text><text class="t e" x="-7" y="-35">8</text><text class="t" x="0" y="21">15</text><text class="t" x="262" y="21">2801</text><path class="tr" d="M137,3l5,10h-10z"/><text class="s" x="137" y="26">1466.50</text><text class="f" x="137" y="42">BET Surface Area (m2/g)</text></g>
<g id="L1"><path class="Y" d="M116,1508L130,1508A14,14 0 1 0 116,1522Z"/><path class="B" d="M116,1508L116,1522A14,14 0 0 0 130,1508Z"/><text class="l" x="116" y="1536">n=8</text><text class="l" x="116" y="1550">&lt;=0.5V</text></g>
<g id="L2"><circle class="G" cx="257" cy="1508" r="11"/><text class="l" x="257" y="1533">n=4</text><text class="l" x="257" y="1547">&gt;=0.8V</text></g>
<g id="L3"><path class="Y" d="M416,1508L459,1508A43,43 0 0 0 385.6,1477.6Z"/><path class="B" d="M416,1508L385.6,1477.6A43,43 0 1 0 459,1508Z"/><text class="l" x="416" y="1565">n=40</text><text class="l" x="416" y="1579">0.5~0.8V</text></g>
<g id="L4"><circle class="Y" cx="560" cy="1508" r="11"/><text class="l" x="560" y="1533">n=3</text><text class="l" x="560" y="1547">&lt;=0.5V</text></g>
<g id="L5"><path class="B" d="M757,1508L768,1508A11,11 0 0 0 746,1508Z"/><path class="G" d="M757,1508L746,1508A11,11 0 0 0 768,1508Z"/><text class="l" x="757" y="1533">n=4</text><text class="l" x="757" y="1547">0.5~0.8V</text></g>
<g id="L6"><circle class="G" cx="900" cy="1508" r="11"/><text class="l" x="900" y="1533">n=5</text><text class="l" x="900" y="1547">&gt;=0.8V</text></g>
<g id="L7"><circle class="Y" cx="1065" cy="1332" r="11"/><text class="l" x="1065" y="1357">n=2</text><text class="l" x="1065" y="1371">&lt;=0.5V</text></g>
<g id="L8"><circle class="Y" cx="1132" cy="1012" r="12"/><text class="l" x="1132" y="1038">n=3</text><text class="l" x="1132" y="1052">&lt;=0.5V</text></g>
<g id="L9"><path class="Y" d="M1252,1508L1268,1508A16,16 0 1 0 1256.9,1523.2Z"/><path class="B" d="M1252,1508L1256.9,1523.2A16,16 0 0 0 1268,1508Z"/><text class="l" x="1252" y="1538">n=10</text><text class="l" x="1252" y="1552">&lt;=0.5V</text></g>
<g id="L10"><path class="Y" d="M1395,1508L1435,1508A40,40 0 0 0 1357.9,1493Z"/><path class="B" d="M1395,1508L1357.9,1493A40,40 0 1 0 1435,1508Z"/><text class="l" x="1395" y="1562">n=36</text><text class="l" x="1395" y="1576">0.5~0.8V</text></g>
<g id="L11"><path class="Y" d="M1548,1508L1564,1508A16,16 0 1 0 1554.8,1522.5Z"/><path class="B" d="M1548,1508L1554.8,1522.5A16,16 0 0 0 1564,1508Z"/><text class="l" x="1548" y="1538">n=11</text><text class="l" x="1548" y="1552">&lt;=0.5V</text></g>
<g id="L12"><circle class="Y" cx="1708" cy="1509" r="11"/><text class="l" x="1708" y="1534">n=4</text><text class="l" x="1708" y="1548">&lt;=0.5V</text></g>
<g id="L13"><circle class="B" cx="1731" cy="1011" r="10"/><text class="l" x="1731" y="1035">n=2</text><text class="l" x="1731" y="1049">0.5~0.8V</text></g>
<g id="L14"><circle class="Y" cx="1887" cy="1333" r="15"/><text class="l" x="1887" y="1362">n=9</text><text class="l" x="1887" y="1376">&lt;=0.5V</text></g>
<g id="L15"><circle class="B" cx="2060" cy="1510" r="8"/><text class="l" x="2060" y="1532">n=1</text><text class="l" x="2060" y="1546">0.5~0.8V</text></g>
<g id="L16"><path class="Y" d="M2205,1508L2215,1508A10,10 0 1 0 2200,1516.7Z"/><path class="B" d="M2205,1508L2200,1516.7A10,10 0 0 0 2215,1508Z"/><text class="l" x="2205" y="1532">n=3</text><text class="l" x="2205" y="1546">&lt;=0.5V</text></g>
<g id="L17"><circle class="B" cx="2358" cy="1510" r="8"/><text class="l" x="2358" y="1532">n=1</text><text class="l" x="2358" y="1546">0.5~0.8V</text></g>
<g id="L18"><circle class="Y" cx="2502" cy="1510" r="8"/><text class="l" x="2502" y="1532">n=1</text><text class="l" x="2502" y="1546">&lt;=0.5V</text></g>
<g id="L19"><circle class="B" cx="2695" cy="1332" r="17"/><text class="l" x="2695" y="1363">n=12</text><text class="l" x="2695" y="1377">0.5~0.8V</text></g>
<g id="L20"><circle class="Y" cx="2825" cy="1332" r="10"/><text class="l" x="2825" y="1356">n=3</text><text class="l" x="2825" y="1370">&lt;=0.5V</text></g>
<g id="L21"><path class="Y" d="M2970,1508L3001,1508A31,31 0 1 0 2945.6,1527.1Z"/><path class="B" d="M2970,1508L2945.6,1527.1A31,31 0 0 0 3001,1508Z"/><text class="l" x="2970" y="1553">n=27</text><text class="l" x="2970" y="1567">&lt;=0.5V</text></g>
<g id="L22"><path class="Y" d="M3114,1509L3129,1509A15,15 0 0 0 3125.5,1499.4Z"/><path class="B" d="M3114,1509L3125.5,1499.4A15,15 0 1 0 3129,1509Z"/><text class="l" x="3114" y="1538">n=9</text><text class="l" x="3114" y="1552">0.5~0.8V</text></g>
<g id="L23"><circle class="Y" cx="3338" cy="1510" r="8"/><text class="l" x="3338" y="1532">n=1</text><text class="l" x="3338" y="1546">&lt;=0.5V</text></g>
<g id="L24"><path class="Y" d="M3483,1508L3493,1508A10,10 0 1 0 3478,1516.7Z"/><path class="B" d="M3483,1508L3478,1516.7A10,10 0 0 0 3493,1508Z"/><text class="l" x="3483" y="1532">n=3</text><text class="l" x="3483" y="1546">&lt;=0.5V</text></g>
<g id="L25"><circle class="B" cx="3640" cy="1333" r="12"/><text class="l" x="3640" y="1359">n=4</text><text class="l" x="3640" y="1373">0.5~0.8V</text></g>
<g id="L26"><path class="Y" d="M3831,1507L3873,1507A42,42 0 1 0 3861.2,1536.2Z"/><path class="B" d="M3831,1507L3861.2,1536.2A42,42 0 0 0 3873,1507Z"/><text class="l" x="3831" y="1563">n=39</text><text class="l" x="3831" y="1577">&lt;=0.5V</text></g>
<g id="L27"><path class="Y" d="M3975,1508L3995,1508A20,20 0 0 0 3964.7,1490.9Z"/><path class="B" d="M3975,1508L3964.7,1490.9A20,20 0 1 0 3995,1508Z"/><text class="l" x="3975" y="1542">n=15</text><text class="l" x="3975" y="1556">0.5~0.8V</text></g>
<g id="L28"><circle class="Y" cx="4121" cy="1333" r="15"/><text class="l" x="4121" y="1362">n=9</text><text class="l" x="4121" y="1376">&lt;=0.5V</text></g>
<g id="L29"><circle class="B" cx="4125" cy="1175" r="12"/><text class="l" x="4125" y="1201">n=5</text><text class="l" x="4125" y="1215">0.5~0.8V</text></g>
<g id="L30"><circle class="Y" cx="4251" cy="1333" r="14"/><text class="l" x="4251" y="1361">n=7</text><text class="l" x="4251" y="1375">&lt;=0.5V</text></g>
<g id="L31"><path class="Y" d="M4422,1508L4443,1508A21,21 0 1 0 4411.5,1526.2Z"/><path class="B" d="M4422,1508L4411.5,1526.2A21,21 0 0 0 4443,1508Z"/><text class="l" x="4422" y="1543">n=16</text><text class="l" x="4422" y="1557">&lt;=0.5V</text></g>
<g id="L32"><circle class="B" cx="4567" cy="1510" r="8"/><text class="l" x="4567" y="1532">n=1</text><text class="l" x="4567" y="1546">0.5~0.8V</text></g>
<g id="L33"><circle class="B" cx="4744" cy="1510" r="11"/><text class="l" x="4744" y="1535">n=4</text><text class="l" x="4744" y="1549">0.5~0.8V</text></g>
<g id="L34"><path class="Y" d="M4889,1509L4900,1509A11,11 0 1 0 4880.1,1515.5Z"/><path class="B" d="M4889,1509L4880.1,1515.5A11,11 0 0 0 4900,1509Z"/><text class="l" x="4889" y="1534">n=5</text><text class="l" x="4889" y="1548">&lt;=0.5V</text></g>
<g id="L35"><circle class="Y" cx="5010" cy="1173" r="42"/><text class="l" x="5010" y="1229">n=39</text><text class="l" x="5010" y="1243">&lt;=0.5V</text></g>
<g id="L36"><path class="Y" d="M5088,1507L5136,1507A48,48 0 1 0 5135.3,1515.3Z"/><path class="B" d="M5088,1507L5135.3,1515.3A48,48 0 0 0 5136,1507Z"/><text class="l" x="5088" y="1569">n=45</text><text class="l" x="5088" y="1583">&lt;=0.5V</text></g>
<g id="L37"><path class="Y" d="M5231,1508L5259,1508A28,28 0 1 0 5231,1536Z"/><path class="B" d="M5231,1508L5231,1536A28,28 0 0 0 5259,1508Z"/><text class="l" x="5231" y="1550">n=23</text><text class="l" x="5231" y="1564">&lt;=0.5V</text></g>
<g id="L38"><circle class="Y" cx="4860" cy="1013" r="10"/><text class="l" x="4860" y="1037">n=2</text><text class="l" x="4860" y="1051">&lt;=0.5V</text></g>
<g id="L39"><circle class="B" cx="5004" cy="1012" r="10"/><text class="l" x="5004" y="1036">n=3</text><text class="l" x="5004" y="1050">0.5~0.8V</text></g>
<g id="L40"><circle class="G" cx="5305" cy="675" r="10"/><text class="l" x="5305" y="699">n=4</text><text class="l" x="5305" y="713">&gt;=0.8V</text></g>
<g id="L41"><circle class="B" cx="5485" cy="1012" r="12"/><text class="l" x="5485" y="1038">n=6</text><text class="l" x="5485" y="1052">0.5~0.8V</text></g>
<g id="L42"><circle class="G" cx="5178" cy="1176" r="8"/><text class="l" x="5178" y="1198">n=1</text><text class="l" x="5178" y="1212">&gt;=0.8V</text></g>
<g id="L43"><circle class="B" cx="5321" cy="1176" r="8"/><text class="l" x="5321" y="1198">n=1</text><text class="l" x="5321" y="1212">0.5~0.8V</text></g>
<g id="L44"><circle class="B" cx="5393" cy="1333" r="18"/><text class="l" x="5393" y="1365">n=13</text><text class="l" x="5393" y="1379">0.5~0.8V</text></g>
<g id="L45"><circle class="Y" cx="5578" cy="1509" r="8"/><text class="l" x="5578" y="1531">n=1</text><text class="l" x="5578" y="1545">&lt;=0.5V</text></g>
<g id="L46"><path class="Y" d="M5721,1509L5729,1509A8,8 0 0 0 5713,1509Z"/><path class="B" d="M5721,1509L5713,1509A8,8 0 0 0 5729,1509Z"/><text class="l" x="5721" y="1531">n=2</text><text class="l" x="5721" y="1545">&lt;=0.5V</text></g>
<g id="L47"><circle class="Y" cx="5883" cy="1509" r="8"/><text class="l" x="5883" y="1531">n=1</text><text class="l" x="5883" y="1545">&lt;=0.5V</text></g>
<g id="L48"><circle class="B" cx="6028" cy="1509" r="8"/><text class="l" x="6028" y="1531">n=1</text><text class="l" x="6028" y="1545">0.5~0.8V</text></g>
<g id="L49"><circle class="Y" cx="6085" cy="1012" r="10"/><text class="l" x="6085" y="1036">n=3</text><text class="l" x="6085" y="1050">&lt;=0.5V</text></g>
<g id="L50"><circle class="Y" cx="6196" cy="1333" r="11"/><text class="l" x="6196" y="1358">n=2</text><text class="l" x="6196" y="1372">&lt;=0.5V</text></g>
<g id="L51"><circle class="Y" cx="6179" cy="675" r="10"/><text class="l" x="6179" y="699">n=3</text><text class="l" x="6179" y="713">&lt;=0.5V</text></g>
<g id="L52"><circle class="B" cx="6310" cy="675" r="27"/><text class="l" x="6310" y="716">n=23</text><text class="l" x="6310" y="730">0.5~0.8V</text></g>
<g id="L53"><circle class="B" cx="6531" cy="844" r="11"/><text class="l" x="6531" y="869">n=3</text><text class="l" x="6531" y="883">0.5~0.8V</text></g>
<g id="L54"><circle class="Y" cx="6674" cy="847" r="8"/><text class="l" x="6674" y="869">n=1</text><text class="l" x="6674" y="883">&lt;=0.5V</text></g>
<g id="L55"><path class="Y" d="M6356,1506L6416,1506A60,60 0 0 0 6414.4,1492.5Z"/><path class="B" d="M6356,1506L6414.4,1492.5A60,60 0 1 0 6413.1,1524.5Z"/><path class="G" d="M6356,1506L6413.1,1524.5A60,60 0 0 0 6416,1506Z"/><text class="l" x="6356" y="1580">n=100</text><text class="l" x="6356" y="1594">0.5~0.8V</text></g>
<g id="L56"><path class="B" d="M6508,1506L6528,1506A20,20 0 1 0 6499.5,1524.1Z"/><path class="G" d="M6508,1506L6499.5,1524.1A20,20 0 0 0 6528,1506Z"/><text class="l" x="6508" y="1540">n=15</text><text class="l" x="6508" y="1554">0.5~0.8V</text></g>
<g id="L57"><path class="Y" d="M6724,1510L6737,1510A13,13 0 0 0 6732.2,1499.9Z"/><path class="B" d="M6724,1510L6732.2,1499.9A13,13 0 1 0 6737,1510Z"/><text class="l" x="6724" y="1537">n=7</text><text class="l" x="6724" y="1551">0.5~0.8V</text></g>
<g id="L58"><circle class="B" cx="6868" cy="1509" r="17"/><text class="l" x="6868" y="1540">n=11</text><text class="l" x="6868" y="1554">0.5~0.8V</text></g>
<g id="L59"><circle class="B" cx="7040" cy="1508" r="13"/><text class="l" x="7040" y="1535">n=6</text><text class="l" x="7040" y="1549">0.5~0.8V</text></g>
<g id="L60"><path class="Y" d="M7184,1509L7207,1509A23,23 0 0 0 7184,1486Z"/><path class="B" d="M7184,1509L7184,1486A23,23 0 0 0 7184,1532Z"/><path class="G" d="M7184,1509L7184,1532A23,23 0 0 0 7207,1509Z"/><text class="l" x="7184" y="1546">n=20</text><text class="l" x="7184" y="1560">0.5~0.8V</text></g>
<g id="L61"><circle class="B" cx="7332" cy="1509" r="13"/><text class="l" x="7332" y="1536">n=7</text><text class="l" x="7332" y="1550">0.5~0.8V</text></g>
<g id="L62"><path class="Y" d="M7477,1508L7491,1508A14,14 0 0 0 7486.9,1498.1Z"/><path class="B" d="M7477,1508L7486.9,1498.1A14,14 0 1 0 7491,1508Z"/><text class="l" x="7477" y="1536">n=8</text><text class="l" x="7477" y="1550">0.5~0.8V</text></g>
<g id="L63"><circle class="Y" cx="7719" cy="1174" r="12"/><text class="l" x="7719" y="1200">n=3</text><text class="l" x="7719" y="1214">&lt;=0.5V</text></g>
<g id="L64"><circle class="B" cx="7705" cy="1332" r="12"/><text class="l" x="7705" y="1358">n=3</text><text class="l" x="7705" y="1372">0.5~0.8V</text></g>
<g id="L65"><circle class="Y" cx="7847" cy="1332" r="12"/><text class="l" x="7847" y="1358">n=2</text><text class="l" x="7847" y="1372">&lt;=0.5V</text></g>
</svg>
